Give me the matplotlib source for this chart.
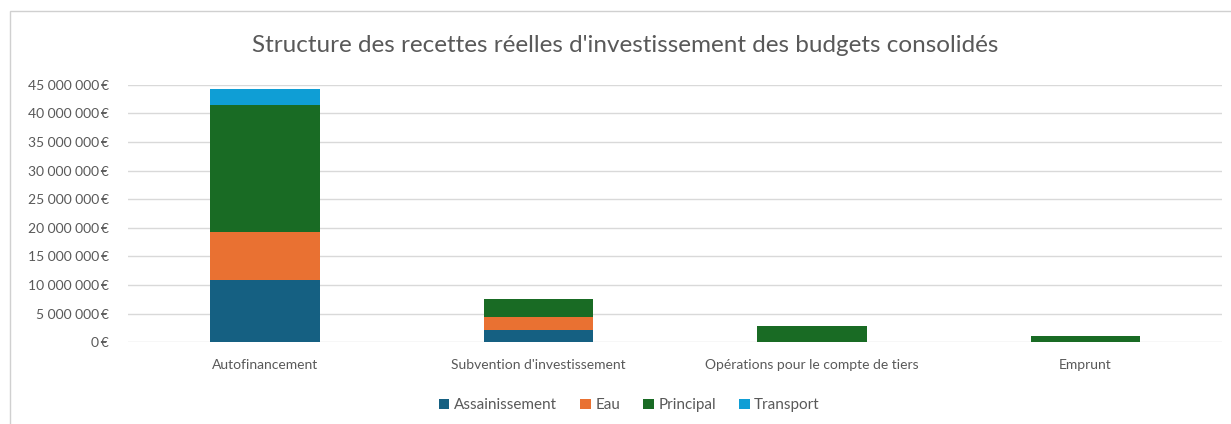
import matplotlib
matplotlib.use("Agg")
import matplotlib.pyplot as plt
import numpy as np
from matplotlib.ticker import FuncFormatter
from matplotlib.patches import Rectangle

plt.rcParams['font.family'] = ['Lato', 'DejaVu Sans']

# data (euros)
categories = ["Autofinancement", "Subvention d'investissement",
              "Opérations pour le compte de tiers", "Emprunt"]
assainissement = [10_900_000, 2_200_000, 0, 0]
eau = [8_300_000, 2_200_000, 0, 0]
principal = [22_300_000, 3_200_000, 2_900_000, 1_000_000]
transport = [2_700_000, 0, 0, 0]

series = [("Assainissement", assainissement, "#156082"),
          ("Eau", eau, "#E97132"),
          ("Principal", principal, "#196B24"),
          ("Transport", transport, "#0F9ED5")]

fig = plt.figure(figsize=(12.31, 4.24), dpi=100)
ax = fig.add_axes([0.104, 0.193, 0.889, 0.607])

# chart border
fig.patches.append(Rectangle((0.008, -0.01), 1.0, 0.985, transform=fig.transFigure,
                             fill=False, edgecolor="#d0d0d0", linewidth=1))

x = np.arange(len(categories))
bottom = np.zeros(len(categories))
for name, vals, color in series:
    vals = np.array(vals, dtype=float)
    ax.bar(x, vals, width=0.4, bottom=bottom, color=color, label=name, zorder=3)
    bottom += vals

ax.set_xlim(-0.5, len(categories) - 0.5)
ax.set_ylim(0, 45_000_000)
ax.set_yticks(np.arange(0, 45_000_001, 5_000_000))


def euro(v, pos):
    s = f"{int(v):,}".replace(",", " ")
    return s + "\u2009€"


ax.yaxis.set_major_formatter(FuncFormatter(euro))
ax.grid(axis="y", color="#d9d9d9", linewidth=1, zorder=0)
for sp in ax.spines.values():
    sp.set_visible(False)
ax.tick_params(axis="both", length=0, colors="#595959", labelsize=10)
ax.tick_params(axis="y", pad=14)
ax.tick_params(axis="x", pad=12)
ax.set_xticks(x)
ax.set_xticklabels(categories)

fig.text(0.508, 0.893, "Structure des recettes réelles d'investissement des budgets consolidés",
         ha="center", va="center", fontsize=17.5, color="#595959")

ax.legend(loc="upper center", bbox_to_anchor=(0.458, -0.165), ncol=4, frameon=False,
          fontsize=11, handlelength=0.7, handleheight=0.7, handletextpad=0.3,
          columnspacing=1.5, labelcolor="#595959")

fig.savefig("out.png", dpi=100)
